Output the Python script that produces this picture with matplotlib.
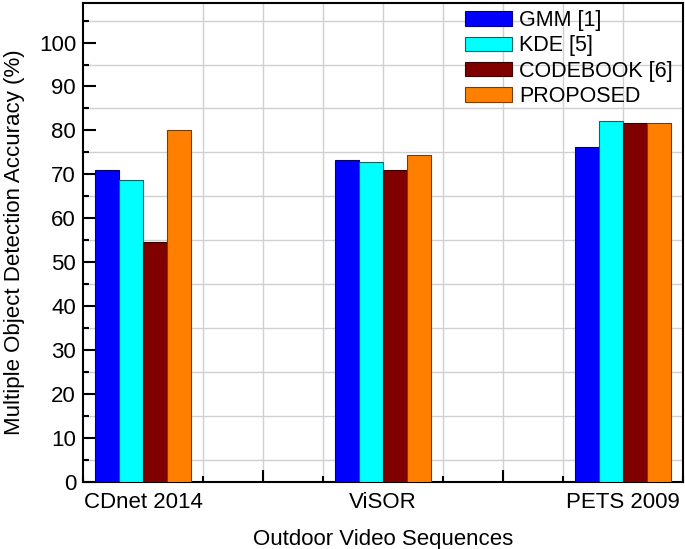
import numpy as np
import matplotlib.pyplot as plt
from matplotlib.ticker import MultipleLocator

plt.rcParams['font.family'] = ['Liberation Sans', 'DejaVu Sans']

# data
sequences = ['CDnet 2014', 'ViSOR', 'PETS 2009']
methods = ['GMM [1]', 'KDE [5]', 'CODEBOOK [6]', 'PROPOSED']
gmm = [71.0, 73.3, 76.2]
kde = [68.8, 72.8, 82.2]
codebook = [54.5, 71.0, 81.6]
proposed = [80.1, 74.3, 81.8]

faces = ['#0000ff', '#00ffff', '#800000', '#ff8000']
edges = ['#00007a', '#006a6a', '#3a0000', '#7a3a00']

fig = plt.figure(figsize=(6.85, 5.49), dpi=100)
ax = fig.add_axes([83 / 685, 1 - 482 / 549, 600 / 685, 479 / 549])

x = np.arange(1, len(sequences) + 1)
width = 0.1
for i, (vals, name) in enumerate(zip([gmm, kde, codebook, proposed], methods)):
    ax.bar(x + (i - 1.5) * width, vals, width, color=faces[i],
           edgecolor=edges[i], linewidth=0.8, label=name, zorder=3)

ax.set_xlim(0.75, 3.25)
ax.set_ylim(0, 109)
# major ticks every half step, labels only on the categories
ax.set_xticks([1, 1.5, 2, 2.5, 3])
ax.set_xticklabels([sequences[0], '', sequences[1], '', sequences[2]])
ax.xaxis.set_minor_locator(MultipleLocator(0.25))
ax.yaxis.set_major_locator(MultipleLocator(10))
ax.yaxis.set_minor_locator(MultipleLocator(5))

# grid only on the in-between positions, like the original
for gx in np.arange(1.25, 3.25, 0.25):
    ax.axvline(gx, color='#d0d0d0', lw=1, zorder=0)
for gy in np.arange(5, 109, 10):
    ax.axhline(gy, color='#d0d0d0', lw=1, zorder=0)

ax.tick_params(axis='both', which='major', direction='in', length=9, width=1.5,
               labelsize=16, top=False, right=False)
ax.tick_params(axis='both', which='minor', direction='in', length=4, width=1.5,
               top=False, right=False)
ax.tick_params(axis='x', which='major', pad=7)
ax.tick_params(axis='y', which='major', pad=5)
for s in ax.spines.values():
    s.set_linewidth(1.5)

ax.set_xlabel('Outdoor Video Sequences', fontsize=16, labelpad=12)
ax.set_ylabel('Multiple Object Detection Accuracy (%)', fontsize=16, labelpad=10)

ax.legend(loc='upper right', bbox_to_anchor=(1.004, 1.012), frameon=False,
          fontsize=15.5, handlelength=2.15, handleheight=0.65,
          labelspacing=0.2, handletextpad=0.33, borderaxespad=0.2)

fig.savefig('out.png', dpi=100)
